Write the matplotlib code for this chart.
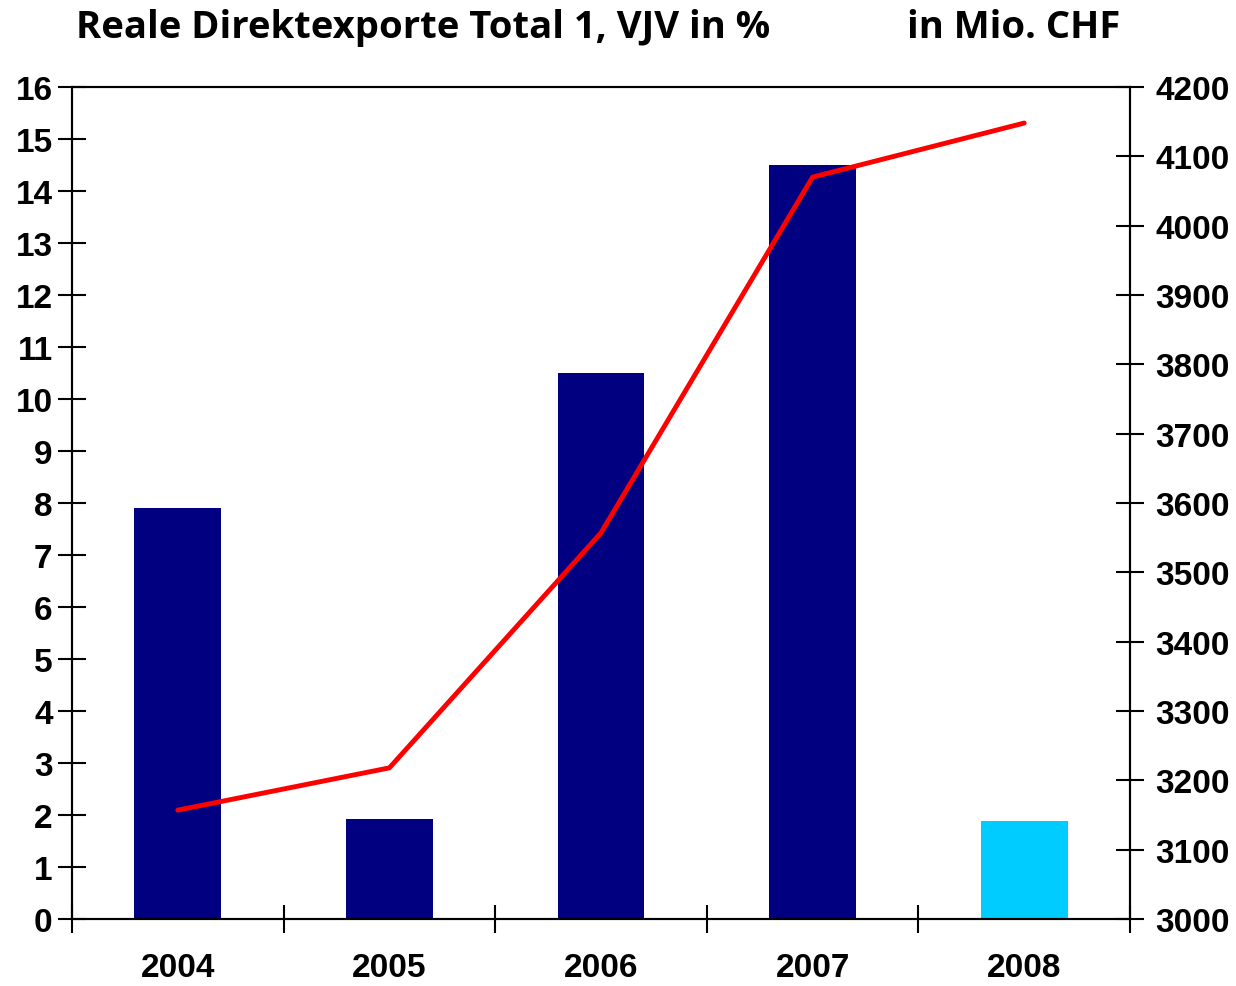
import matplotlib
matplotlib.use("Agg")
import matplotlib.pyplot as plt
from matplotlib.font_manager import FontProperties
import numpy as np

years = ["2004", "2005", "2006", "2007", "2008"]
growth_pct = [7.9, 1.93, 10.5, 14.5, 1.88]
exports_mio = [3157, 3218, 3557, 4070, 4148]
bar_colors = ["#000080", "#000080", "#000080", "#000080", "#00CCFF"]

tick_fp = FontProperties(family=["Liberation Sans"], weight="bold", size=24)

fig = plt.figure(figsize=(12.36, 9.87), dpi=100)
ax = fig.add_axes([72/1236, 1-920/987, (1130-72)/1236, (920-88)/987])
x = np.arange(len(years))
ax.bar(x, growth_pct, width=0.41, color=bar_colors, zorder=2)
ax.set_xlim(-0.5, len(years)-0.5)
ax.set_ylim(0, 16)
ax.set_yticks(range(0, 17))
ax.set_xticks(np.arange(-0.5, len(years)), minor=False)
ax.set_xticklabels([])
ax.set_xticks(x, minor=True)
ax.set_xticklabels(years, minor=True)
for lab in ax.get_xticklabels(minor=True):
    lab.set_fontproperties(tick_fp)
ax.tick_params(axis="x", which="minor", length=0, pad=24)
ax.tick_params(axis="x", which="major", direction="inout", length=20, width=1.5)
ax.tick_params(axis="y", direction="inout", length=20, width=1.5, pad=4)
for lab in ax.get_yticklabels():
    lab.set_fontproperties(tick_fp)
for s in ax.spines.values():
    s.set_linewidth(1.5)

ax2 = ax.twinx()
ax2.plot(x, exports_mio, color="#FF0000", lw=3.5, zorder=3, solid_capstyle="round")
ax2.set_ylim(3000, 4200)
ax2.set_yticks(range(3000, 4201, 100))
ax2.tick_params(axis="y", direction="inout", length=20, width=1.5, pad=8)
for lab in ax2.get_yticklabels():
    lab.set_fontproperties(tick_fp)
for s in ax2.spines.values():
    s.set_linewidth(1.5)

fig.text(76/1236, 1-28/987, "Reale Direktexporte Total 1, VJV in %", fontsize=27.5,
         fontweight="bold", family="Open Sans", va="center", ha="left")
fig.text(1120/1236, 1-28/987, "in Mio. CHF", fontsize=27.5,
         fontweight="bold", family="Open Sans", va="center", ha="right")

fig.savefig("out.png", dpi=100)
